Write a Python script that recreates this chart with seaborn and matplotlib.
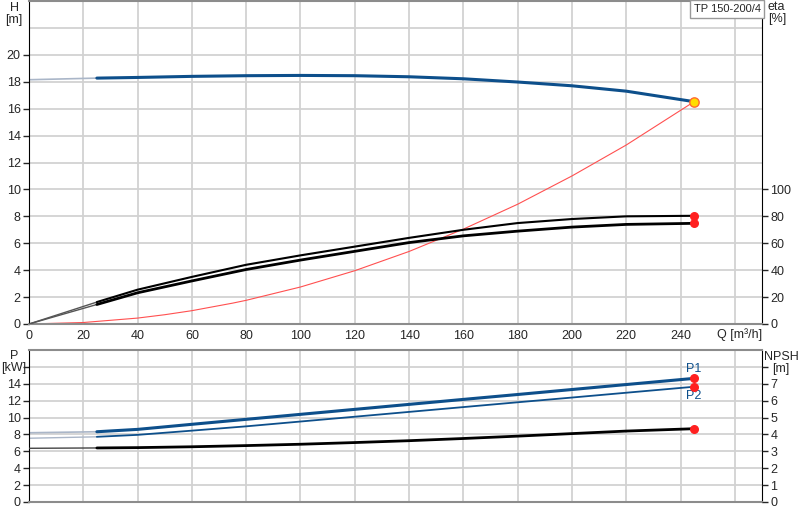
import numpy as np
import pandas as pd
import matplotlib
matplotlib.use('Agg')
import matplotlib.pyplot as plt
import seaborn as sns

# flow points [m3/h]
q = [0, 25, 40, 60, 80, 100, 120, 140, 160, 180, 200, 220, 245]
# head [m]
head = [18.15, 18.27, 18.32, 18.4, 18.45, 18.47, 18.45, 18.37, 18.22, 17.98, 17.7, 17.3, 16.52]
# efficiency [%]
eta_1 = [0, 16.3, 25.5, 35.0, 44.0, 51.0, 57.5, 64.0, 70.0, 75.0, 78.0, 80.0, 80.4]
eta_2 = [0, 14.5, 23.2, 32.0, 40.5, 47.5, 54.0, 60.5, 65.5, 69.0, 72.0, 74.0, 74.8]
# power [kW]
p1 = [8.2, 8.32, 8.6, 9.2, 9.79, 10.38, 10.97, 11.56, 12.15, 12.73, 13.32, 13.91, 14.64]
p2 = [7.55, 7.72, 7.95, 8.45, 8.96, 9.53, 10.1, 10.67, 11.24, 11.81, 12.37, 12.94, 13.65]
# npsh [m]
npsh = [3.18, 3.2, 3.22, 3.27, 3.34, 3.42, 3.52, 3.63, 3.76, 3.9, 4.05, 4.2, 4.34]
# system curve
q_sys = [0, 20, 40, 50, 60, 75, 80, 100, 120, 140, 160, 180, 200, 220, 245]
h_sys = [0, 0.11, 0.44, 0.69, 0.99, 1.55, 1.76, 2.75, 3.96, 5.39, 7.05, 8.9, 11.0, 13.3, 16.52]

duty_q = 245
duty_h = 16.52

df = pd.DataFrame({'Q': q, 'H': head, 'eta1': eta_1, 'eta2': eta_2,
                   'P1': p1, 'P2': p2, 'NPSH': npsh})
sys_df = pd.DataFrame({'Q': q_sys, 'H': h_sys})
lo = df[df['Q'] <= 25]
hi = df[df['Q'] >= 25]

sns.set_style('white')
plt.rcParams['font.family'] = ['Liberation Sans', 'DejaVu Sans']
plt.rcParams['font.size'] = 9

blue = '#0d4f8b'
light = '#aab6c8'
grid_c = '#d2d2d2'
red = '#ff2020'

W, H = 800, 520
fig = plt.figure(figsize=(8, 5.2), dpi=100)
ax1 = fig.add_axes([29 / W, 1 - 324 / H, 733 / W, 323 / H])
ax2 = fig.add_axes([29 / W, 1 - 502 / H, 733 / W, 152 / H])


def style_axes(ax):
    ax.set_xlim(0, 270)
    ax.set_xticks(np.arange(0, 261, 20))
    ax.grid(True, which='both', color=grid_c, lw=1.3)
    ax.set_axisbelow(True)
    for s in ['top', 'bottom']:
        ax.spines[s].set_color('#8c8c8c')
        ax.spines[s].set_linewidth(1.5)
    ax.spines['left'].set_color('black')
    ax.spines['right'].set_color('black')
    ax.tick_params(axis='y', length=4, width=1, pad=2, labelsize=9)
    ax.tick_params(axis='x', length=0, pad=4, labelsize=9)
    ax.set_xlabel('')
    ax.set_ylabel('')


# --- top: head + efficiency
ax1r = ax1.twinx()
ax1r.set_ylim(0, 240)
ax1r.set_yticks(np.arange(0, 101, 20))
ax1r.tick_params(axis='y', length=4, width=1, pad=2, labelsize=9)

sns.lineplot(data=sys_df, x='Q', y='H', ax=ax1, color='#ff5050', lw=0.8)
sns.lineplot(data=lo, x='Q', y='H', ax=ax1, color=light, lw=1.2)
sns.lineplot(data=hi, x='Q', y='H', ax=ax1, color=blue, lw=2.2)
sns.lineplot(data=lo, x='Q', y='eta1', ax=ax1r, color='#555555', lw=1.0)
sns.lineplot(data=hi, x='Q', y='eta1', ax=ax1r, color='black', lw=1.5)
sns.lineplot(data=lo, x='Q', y='eta2', ax=ax1r, color='#555555', lw=1.0)
sns.lineplot(data=hi, x='Q', y='eta2', ax=ax1r, color='black', lw=2.0)
ax1r.scatter([q[-1], q[-1]], [eta_1[-1], eta_2[-1]], s=30, color=red, zorder=5)
ax1.scatter([duty_q], [duty_h], s=45, color='#ffdd00', edgecolor='#ff6a30', lw=1, zorder=6)

ax1.set_ylim(0, 24)
ax1.set_yticks(np.arange(0, 21, 2))
ax1.set_yticks([22], minor=True)
ax1.tick_params(axis='y', which='minor', length=0)
style_axes(ax1)
ax1r.set_ylabel('')
for s in ax1r.spines.values():
    s.set_visible(False)
ax1.set_xticklabels([str(v) for v in range(0, 241, 20)] + [''])

# --- bottom: power + npsh
ax2r = ax2.twinx()
ax2r.set_ylim(0, 9)
ax2r.set_yticks(np.arange(0, 9, 1))
ax2r.set_yticklabels([str(v) for v in range(0, 8)] + [''])
ax2r.tick_params(axis='y', length=4, width=1, pad=2, labelsize=9)

sns.lineplot(data=lo, x='Q', y='P1', ax=ax2, color=light, lw=1.2)
sns.lineplot(data=hi, x='Q', y='P1', ax=ax2, color=blue, lw=2.2)
sns.lineplot(data=lo, x='Q', y='P2', ax=ax2, color=light, lw=1.0)
sns.lineplot(data=hi, x='Q', y='P2', ax=ax2, color=blue, lw=1.3)
sns.lineplot(data=lo, x='Q', y='NPSH', ax=ax2r, color='#444444', lw=1.0)
sns.lineplot(data=hi, x='Q', y='NPSH', ax=ax2r, color='black', lw=2.0)
ax2.scatter([q[-1], q[-1]], [p1[-1], p2[-1]], s=30, color=red, zorder=5)
ax2r.scatter([q[-1]], [npsh[-1]], s=30, color=red, zorder=5)
ax2.text(q[-1], p1[-1] + 0.45, 'P1', color=blue, ha='center', va='bottom', fontsize=9)
ax2.text(q[-1], p2[-1] - 0.35, 'P2', color=blue, ha='center', va='top', fontsize=9)

ax2.set_ylim(0, 18)
ax2.set_yticks(np.arange(0, 17, 2))
ax2.set_yticklabels([str(v) for v in range(0, 15, 2)] + [''])
style_axes(ax2)
ax2.set_xticklabels([])
ax2r.set_ylabel('')
for s in ax2r.spines.values():
    s.set_visible(False)


def px_text(x, y, s, **kw):
    fig.text(x / W, 1 - y / H, s, **kw)


px_text(14, 2, 'H\n[m]', ha='center', va='top', fontsize=9, linespacing=1.05)
px_text(768, 1, 'eta\n[%]', ha='left', va='top', fontsize=9, linespacing=1.05)
px_text(740, 335, 'Q [m³/h]', ha='center', va='center', fontsize=9)
px_text(14, 350, 'P\n[kW]', ha='center', va='top', fontsize=9, linespacing=1.05)
px_text(781, 351, 'NPSH\n[m]', ha='center', va='top', fontsize=9, linespacing=1.05)
px_text(727, 9, 'TP 150-200/4', ha='center', va='center', fontsize=8,
        bbox=dict(boxstyle='square,pad=0.35', fc='white', ec='#999999', lw=1))

fig.savefig('out.png', dpi=100)
